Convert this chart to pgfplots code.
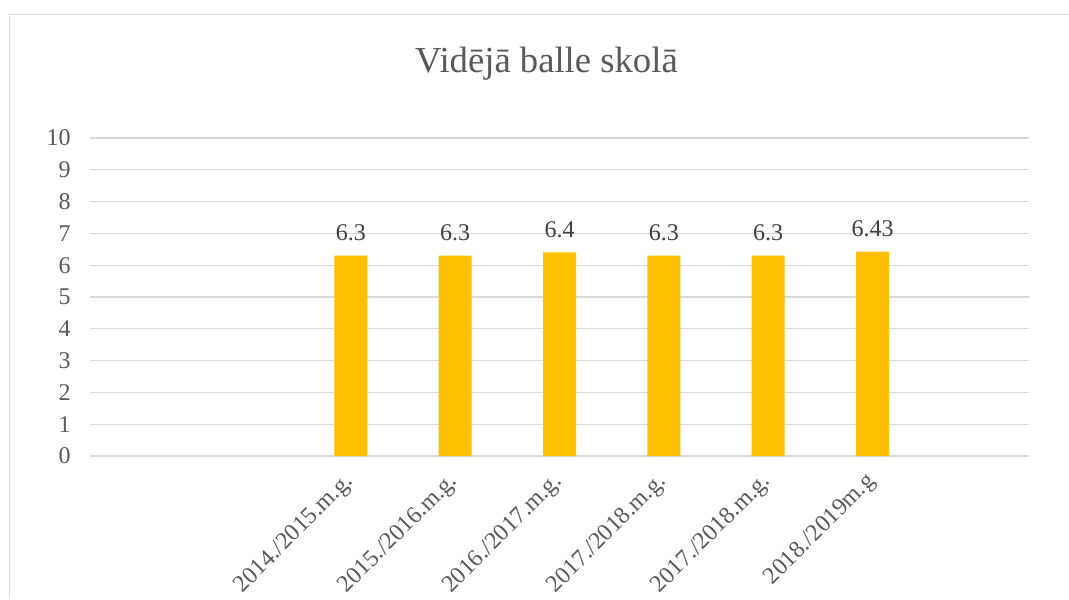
\documentclass[border=0pt]{standalone}
\usepackage{fontspec}
\setmainfont{Liberation Serif}
\usepackage{pgfplots}
\pgfplotsset{compat=1.18}
\definecolor{barc}{HTML}{FFC000}
\definecolor{gridc}{HTML}{D9D9D9}
\definecolor{txt}{HTML}{595959}
\definecolor{lbl}{HTML}{404040}
\begin{document}
\begin{tikzpicture}[x=0.75pt,y=0.75pt]
\useasboundingbox (0,0) rectangle (1069,599);
\fill[white] (0,0) rectangle (1069,599);
\draw[gridc, line width=0.75pt] (9,0) -- (9,584) -- (1069,584);
\node[anchor=base, text=txt, font=\fontsize{27.5}{30}\selectfont, inner sep=0pt] at (546.5,526) {Vidējā balle skolā};
\begin{axis}[
  at={(67.5pt,107.25pt)}, anchor=south west,
  scale only axis, width=704.25pt, height=238.5pt,
  /pgf/number format/assume math mode=true,
  xmin=-0.5, xmax=8.5, ymin=0, ymax=10,
  ytick={0,1,...,10},
  xtick={2,3,4,5,6,7},
  xticklabels={2014./2015.m.g., 2015./2016.m.g., 2016./2017.m.g., 2017./2018.m.g., 2017./2018.m.g., 2018./2019m.g},
  xticklabel style={xshift=-6.2pt, yshift=-2pt, rotate=45, anchor=north east, font=\fontsize{18}{20}\selectfont, text=txt},
  yticklabel style={font=\fontsize{18}{20}\selectfont, text=txt, xshift=-11pt},
  ymajorgrids, major grid style={gridc, line width=0.9pt},
  axis line style={draw=none}, tick style={draw=none},
  ybar, bar width=24.75pt,
  clip=false,
  nodes near coords={\pgfmathprintnumber[fixed,precision=2]{\pgfplotspointmeta}},
  nodes near coords style={font=\fontsize{18}{20}\selectfont, text=lbl, anchor=south, yshift=7.5pt},
]
\addplot[fill=barc, draw=none] coordinates {(2,6.3) (3,6.3) (4,6.4) (5,6.3) (6,6.3) (7,6.43)};
\end{axis}
\end{tikzpicture}
\end{document}
